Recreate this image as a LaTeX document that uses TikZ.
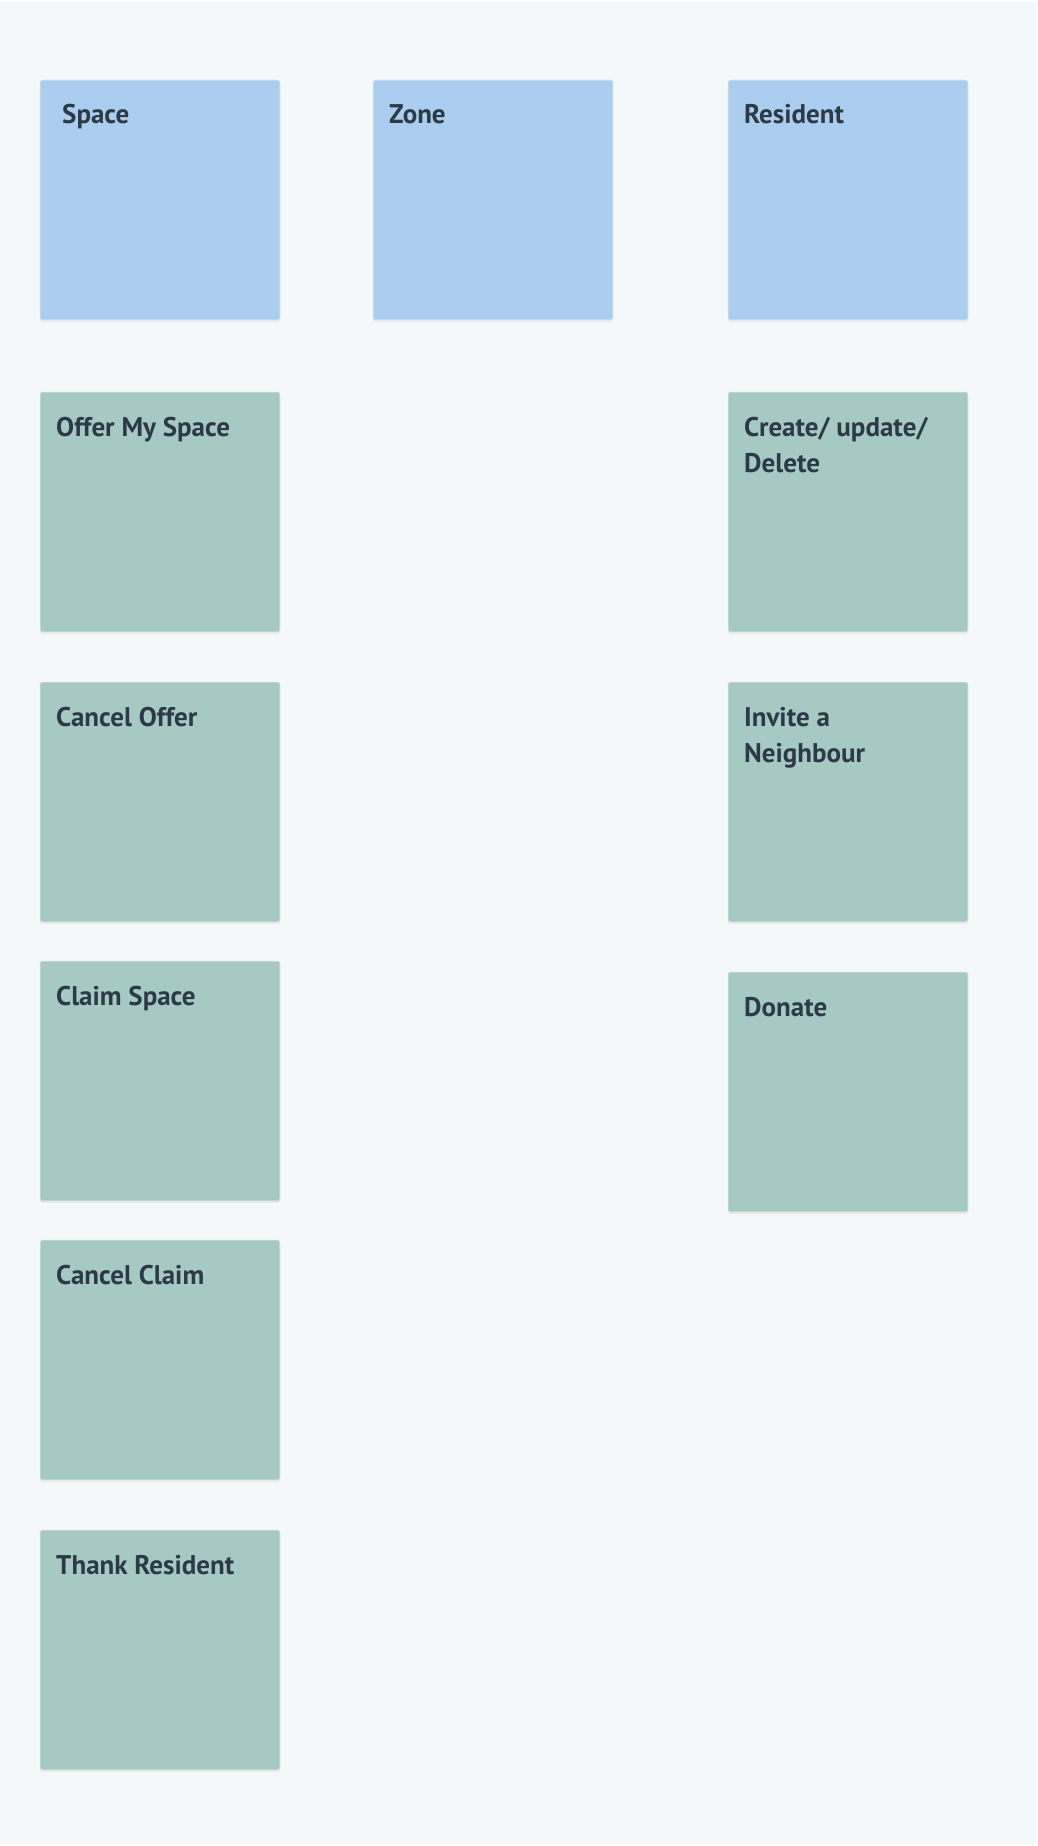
\documentclass[tikz,border=0pt]{standalone}
\usepackage{fontspec}
\usepackage{tikz}
\usetikzlibrary{positioning, shadows}
\newfontfamily\cardfont{PT Sans}
\definecolor{pagebg}{RGB}{244,248,249}
\definecolor{entityblue}{RGB}{171,205,239}
\definecolor{actiongreen}{RGB}{167,201,195}
\definecolor{inkdark}{RGB}{44,58,72}

\begin{document}
\begin{tikzpicture}[
    x=1pt, y=-1pt,
    card/.style={rounded corners=2pt, minimum width=240pt, minimum height=240pt,
      inner sep=0pt, outer sep=0pt, draw=black!7, line width=0.6pt,
      drop shadow={opacity=0.10, shadow xshift=0pt, shadow yshift=-2pt}},
    entity/.style={card, fill=entityblue},
    action/.style={card, fill=actiongreen},
    cardtext/.style={anchor=base west, inner sep=0pt, align=left, text=inkdark,
      font=\cardfont\bfseries\fontsize{27}{36}\selectfont}
]
\useasboundingbox (0,0) rectangle (1038,1846);
\fill[pagebg] (0,2) rectangle (1036,1844);

% Entities
\node[entity] (space) at (160,200) {};
\node[entity] (zone) [right=93pt of space] {};
\node[entity] (resident) [right=115pt of zone] {};

% Space actions
\node[action] (offer) [below=72pt of space] {};
\node[action] (canceloffer) [below=50pt of offer] {};
\node[action] (claim) [below=39pt of canceloffer] {};
\node[action] (cancelclaim) [below=39pt of claim] {};
\node[action] (thank) [below=50pt of cancelclaim] {};

% Resident actions
\node[action] (crud) [below=72pt of resident] {};
\node[action] (invite) [below=50pt of crud] {};
\node[action] (donate) [below=50pt of invite] {};

% Titles (two-line ones sit on their last baseline)
\node[cardtext] (space-t) at ([shift={(22,44)}]space.north west) {Space};
\node[cardtext] (zone-t) at ([shift={(16,44)}]zone.north west) {Zone};
\node[cardtext] (resident-t) at ([shift={(16,44)}]resident.north west) {Resident};
\node[cardtext] (offer-t) at ([shift={(16,44)}]offer.north west) {Offer My Space};
\node[cardtext] (canceloffer-t) at ([shift={(16,44)}]canceloffer.north west) {Cancel Offer};
\node[cardtext] (claim-t) at ([shift={(16,44)}]claim.north west) {Claim Space};
\node[cardtext] (cancelclaim-t) at ([shift={(16,44)}]cancelclaim.north west) {Cancel Claim};
\node[cardtext] (thank-t) at ([shift={(16,44)}]thank.north west) {Thank Resident};
\node[cardtext] (crud-t) at ([shift={(16,80)}]crud.north west) {Create/ update/\\Delete};
\node[cardtext] (invite-t) at ([shift={(16,80)}]invite.north west) {Invite a\\Neighbour};
\node[cardtext] (donate-t) at ([shift={(16,44)}]donate.north west) {Donate};

\end{tikzpicture}
\end{document}
